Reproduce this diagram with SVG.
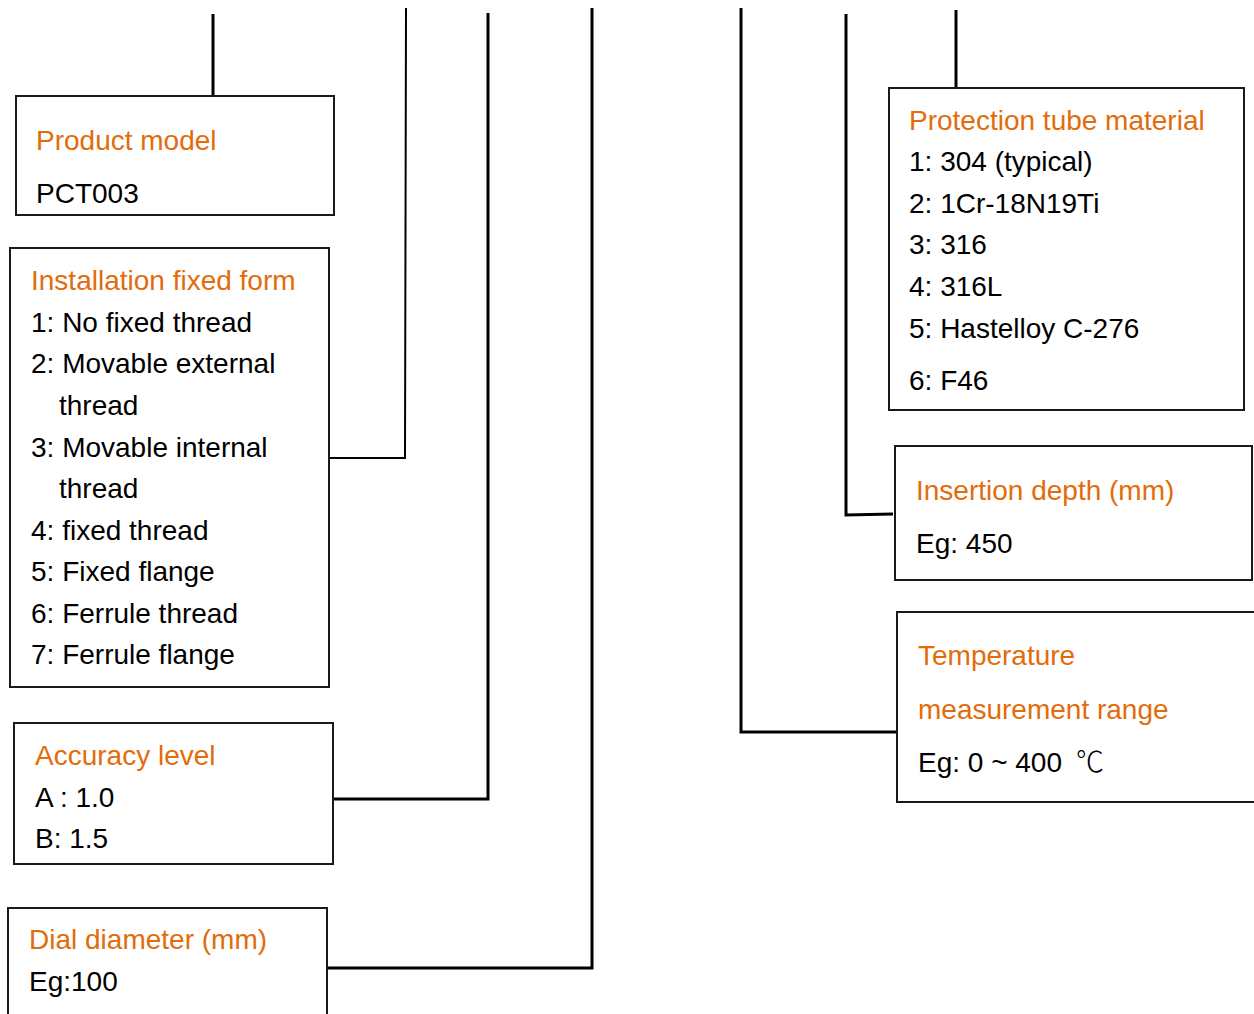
<svg xmlns="http://www.w3.org/2000/svg" width="1254" height="1014" viewBox="0 0 1254 1014">
<style>
.box{fill:#fff;stroke:#1a1a1a;stroke-width:2}
.t{font-family:"Liberation Sans",Arial,sans-serif;font-size:28px;fill:#000}
.h{font-family:"Liberation Sans",Arial,sans-serif;font-size:28px;fill:#E36C0A}
.c{fill:none;stroke:#000;stroke-width:3;stroke-linejoin:miter}
.c2{fill:none;stroke:#000;stroke-width:2}
.cjk{font-family:"Noto Sans CJK SC",sans-serif;font-weight:300}
</style>
<rect width="1254" height="1014" fill="#fff"/>
<g id="connectors">
<line class="c" x1="213" y1="14" x2="213" y2="96"/>
<polyline class="c2" points="406,8 405,458 329,458"/>
<polyline class="c" points="488,13 488,799 334,799"/>
<polyline class="c" points="592,8 592,968 328,968"/>
<polyline class="c" points="741,8 741,732 896,732"/>
<polyline class="c" points="846,14 846,515 893,514"/>
<line class="c" x1="956" y1="10" x2="956" y2="87"/>
</g>
<g id="product-model">
<rect class="box" x="16" y="96" width="318" height="119"/>
<text class="h" x="36" y="150">Product model</text>
<text class="t" x="36" y="203">PCT003</text>
</g>
<g id="installation-fixed-form">
<rect class="box" x="10" y="248" width="319" height="439"/>
<text class="h" x="31" y="290">Installation fixed form</text>
<text class="t" x="31" y="332">1: No fixed thread</text>
<text class="t" x="31" y="373">2: Movable external</text>
<text class="t" x="59" y="415">thread</text>
<text class="t" x="31" y="457">3: Movable internal</text>
<text class="t" x="59" y="498">thread</text>
<text class="t" x="31" y="540">4: fixed thread</text>
<text class="t" x="31" y="581">5: Fixed flange</text>
<text class="t" x="31" y="623">6: Ferrule thread</text>
<text class="t" x="31" y="664">7: Ferrule flange</text>
</g>
<g id="accuracy-level">
<rect class="box" x="14" y="723" width="319" height="141"/>
<text class="h" x="35" y="765">Accuracy level</text>
<text class="t" x="35" y="807">A : 1.0</text>
<text class="t" x="35" y="848">B: 1.5</text>
</g>
<g id="dial-diameter">
<rect class="box" x="8" y="908" width="319" height="120"/>
<text class="h" x="29" y="949">Dial diameter (mm)</text>
<text class="t" x="29" y="991">Eg:100</text>
</g>
<g id="protection-tube-material">
<rect class="box" x="889" y="88" width="355" height="322"/>
<text class="h" x="909" y="130">Protection tube material</text>
<text class="t" x="909" y="171">1: 304 (typical)</text>
<text class="t" x="909" y="213">2: 1Cr-18N19Ti</text>
<text class="t" x="909" y="254">3: 316</text>
<text class="t" x="909" y="296">4: 316L</text>
<text class="t" x="909" y="338">5: Hastelloy C-276</text>
<text class="t" x="909" y="390">6: F46</text>
</g>
<g id="insertion-depth">
<rect class="box" x="895" y="446" width="357" height="134"/>
<text class="h" x="916" y="500">Insertion depth (mm)</text>
<text class="t" x="916" y="553">Eg: 450</text>
</g>
<g id="temperature-range">
<rect class="box" x="897" y="612" width="370" height="190"/>
<text class="h" x="918" y="665">Temperature</text>
<text class="h" x="918" y="719">measurement range</text>
<text class="t" x="918" y="772">Eg: 0 ~ 400 <tspan class="cjk" x="1076">℃</tspan></text>
</g>
</svg>
